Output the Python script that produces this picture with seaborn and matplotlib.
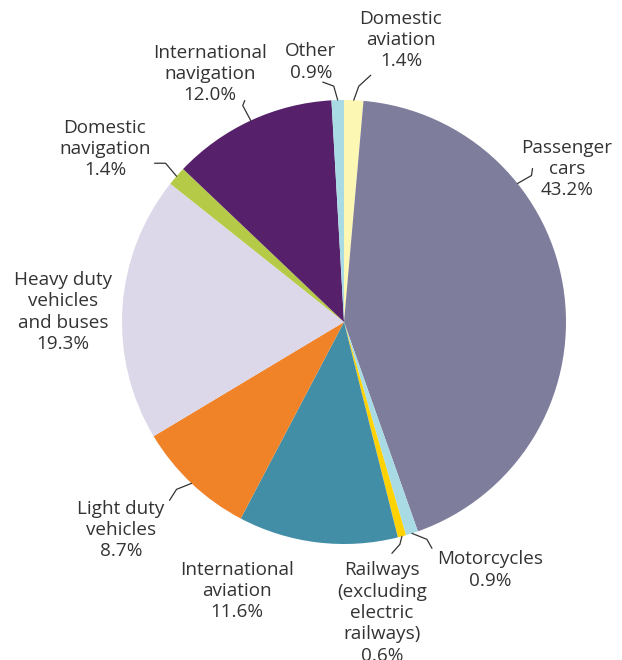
import numpy as np
import matplotlib
matplotlib.use("Agg")
import matplotlib.pyplot as plt
import seaborn as sns

# transport emission shares, clockwise from 12 o'clock
labels = ["Domestic\naviation", "Passenger\ncars", "Motorcycles", "Railways\n(excluding\nelectric\nrailways)",
          "International\naviation", "Light duty\nvehicles", "Heavy duty\nvehicles\nand buses",
          "Domestic\nnavigation", "International\nnavigation", "Other"]
shares = [1.4, 43.2, 0.9, 0.6, 11.6, 8.7, 19.3, 1.4, 12.0, 0.9]
colors = ["#fcf8b4", "#7f7d9c", "#a9dbe5", "#ffd200", "#428ea6",
          "#f08328", "#dcd8ea", "#b5cb47", "#56216a", "#a9dbe5"]

sns.set_theme(style="white")
plt.rcParams["font.family"] = ["Open Sans", "DejaVu Sans"]

W, H = 622, 660
cx, cy, R = 344, 322, 222

fig = plt.figure(figsize=(W / 100, H / 100), dpi=100)
ax = fig.add_axes([0, 0, 1, 1])
ax.pie(shares, colors=colors, startangle=90, counterclock=False, radius=1,
       wedgeprops=dict(linewidth=0))
ax.set_xlim(-cx / R, (W - cx) / R)
ax.set_ylim(-(H - cy) / R, cy / R)
ax.set_aspect("equal")
ax.axis("off")


def px(x, y):
    return (x - cx) / R, (cy - y) / R


# label centres in pixels
text_pos = [(401, 40), (567, 169), (490, 570), (382, 613), (237, 591),
            (121, 530), (63, 312), (105, 149), (210, 74), (311, 62)]

# leader lines: (index, anchor angle override, first offset px, second offset px)
leaders = [(0, None, (5, -14), (12, -11)),
           (1, 38.6, (14, -8), (1, -7)),
           (2, None, (15, 6), (5, 9)),
           (3, None, (-2, 8), (-8, 9)),
           (5, None, (-15, 6), (-7, 11)),
           (7, None, (-11, -13), (-11, 0)),
           (8, None, (-8, -15), (2, -5)),
           (9, None, (-4, -14), (-11, -4))]

cum = np.cumsum([0] + shares)
for i, (lab, val) in enumerate(zip(labels, shares)):
    x, y = px(*text_pos[i])
    ax.text(x, y, f"{lab}\n{val:.1f}%", ha="center", va="center", fontsize=13.6,
            color="#333333", linespacing=1.24)

for i, ang, o1, o2 in leaders:
    if ang is None:
        mid = (cum[i] + shares[i] / 2) / 100
        ang = 90 - mid * 360
    a = np.deg2rad(ang)
    x0, y0 = cx + R * np.cos(a), cy - R * np.sin(a)
    x1, y1 = x0 + o1[0], y0 + o1[1]
    x2, y2 = x1 + o2[0], y1 + o2[1]
    pts = [px(x0, y0), px(x1, y1), px(x2, y2)]
    ax.plot([p[0] for p in pts], [p[1] for p in pts], color="#333333", lw=0.9)

fig.savefig("out.png", dpi=100)
